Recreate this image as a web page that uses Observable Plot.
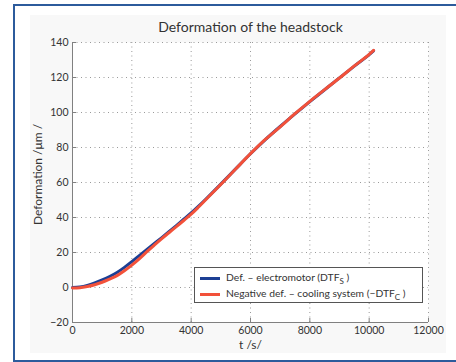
<!DOCTYPE html>
<html>
<head>
<meta charset="utf-8">
<script src="https://cdn.jsdelivr.net/npm/d3@7"></script>
<script src="https://cdn.jsdelivr.net/npm/@observablehq/plot@0.6"></script>
<style>
  html, body { margin: 0; padding: 0; background: #fff; }
  #wrap { position: relative; width: 456px; height: 362px; overflow: hidden; font-family: Lato, "Open Sans", sans-serif; }
  #border { position: absolute; left: 13px; top: 4px; width: 460px; height: 358px; border-left: 2px solid #2c5b9c; border-top: 2px solid #2c5b9c; border-bottom: 2px solid #2c5b9c; box-sizing: border-box; }
  #panel { position: absolute; left: 30px; top: 15px; width: 416px; height: 338px; background: #f8f8f8; }
  #chart { position: absolute; left: 0; top: 0; }
  #legend { position: absolute; left: 194px; top: 267px; width: 229px; height: 36px; border: 1px solid #555; background: #fff; box-sizing: border-box; font-size: 10.3px; color: #333; }
  .row { position: absolute; left: 5px; height: 14px; line-height: 14px; white-space: nowrap; }
  .sw { display: inline-block; width: 20px; height: 3px; vertical-align: middle; margin-right: 6px; }
  sub { font-size: 8px; vertical-align: -3px; }
</style>
</head>
<body>
<div id="wrap">
  <div id="border"></div>
  <div id="panel"></div>
  <div id="chart"></div>
  <div id="legend">
    <div class="row" style="top:2px"><span class="sw" style="background:#1c3f94"></span>Def. – electromotor (DTF<sub>S</sub> )</div>
    <div class="row" style="top:18px"><span class="sw" style="background:#f2513a"></span>Negative def. – cooling system (−DTF<sub>C</sub> )</div>
  </div>
</div>
<script>
// time in seconds
const timeS = [0, 250, 500, 750, 1000, 1250, 1500, 1750, 2000, 2250, 2500, 2750, 3000, 3250, 3500, 3750, 4000, 4250, 4500, 4750, 5000, 5500, 6000, 6500, 7000, 7500, 8000, 8500, 9000, 9500, 10000, 10150];
// Def. – electromotor (DTF_S), µm
const electromotor = [0, 0.3, 1.2, 2.6, 4.3, 6.3, 8.6, 11.5, 14.8, 18.2, 21.6, 25.0, 28.4, 31.9, 35.4, 39.0, 42.6, 46.5, 50.6, 54.8, 59.1, 67.8, 76.4, 84.5, 92.0, 99.2, 106.2, 113.0, 119.8, 126.5, 133.1, 135.3];
// Negative def. – cooling system (−DTF_C), µm
const cooling = [-0.3, -0.1, 0.6, 1.6, 3.0, 4.8, 6.8, 9.6, 12.8, 16.4, 20.3, 24.1, 27.8, 31.3, 34.8, 38.3, 41.9, 46.0, 50.3, 54.6, 58.9, 67.7, 76.5, 84.6, 91.8, 99.3, 106.4, 113.1, 119.7, 126.6, 133.2, 135.5];
const xTicks = [0, 2000, 4000, 6000, 8000, 10000, 12000];
const yTicks = [-20, 0, 20, 40, 60, 80, 100, 120, 140];
const titleText = "Deformation of the headstock";
const xLabel = "t /s/";
const yLabel = "Deformation /\u03BCm /";

const blueData = timeS.map((t, i) => ({t, v: electromotor[i]}));
const redData = timeS.map((t, i) => ({t, v: cooling[i]}));
const fmt = d => d < 0 ? "\u2212" + (-d) : String(d);

const chart = Plot.plot({
  width: 456,
  height: 362,
  marginLeft: 72,
  marginRight: 28,
  marginTop: 42,
  marginBottom: 40,
  style: {background: "transparent", fontFamily: "Lato, 'Open Sans', sans-serif", fontSize: "10.5px", color: "#333", overflow: "visible"},
  x: {type: "linear", domain: [0, 12000]},
  y: {type: "linear", domain: [-20, 140]},
  marks: [
    Plot.frame({fill: "white", stroke: null}),
    Plot.gridX(xTicks.filter(d => d > 0), {stroke: "#9a9a9a", strokeOpacity: 1, strokeDasharray: "1,3.5"}),
    Plot.gridY(yTicks.filter(d => d > -20), {stroke: "#9a9a9a", strokeOpacity: 1, strokeDasharray: "1,3.5"}),
    Plot.ruleX([0], {stroke: "#808080"}),
    Plot.ruleY([-20], {stroke: "#808080"}),
    Plot.axisX(xTicks, {tickSize: -4, tickPadding: 8, tickFormat: fmt, label: null, fill: "#333", stroke: "#808080"}),
    Plot.axisY(yTicks, {tickSize: -4, tickPadding: 8, tickFormat: fmt, label: null, fill: "#333", stroke: "#808080"}),
    Plot.line(blueData, {x: "t", y: "v", stroke: "#1c3f94", strokeWidth: 3, curve: "monotone-x"}),
    Plot.line(redData, {x: "t", y: "v", stroke: "#f2513a", strokeWidth: 3, curve: "monotone-x"}),
    Plot.text([titleText], {frameAnchor: "top", dy: -20, fontSize: 14, fill: "#333"}),
    Plot.text([xLabel], {frameAnchor: "bottom", dy: 26, fontSize: 12, fill: "#333"}),
    Plot.text([yLabel], {frameAnchor: "left", textAnchor: "middle", dx: -34, dy: -8, rotate: -90, fontSize: 12, fill: "#333"})
  ]
});
document.getElementById("chart").appendChild(chart);
</script>
</body>
</html>
